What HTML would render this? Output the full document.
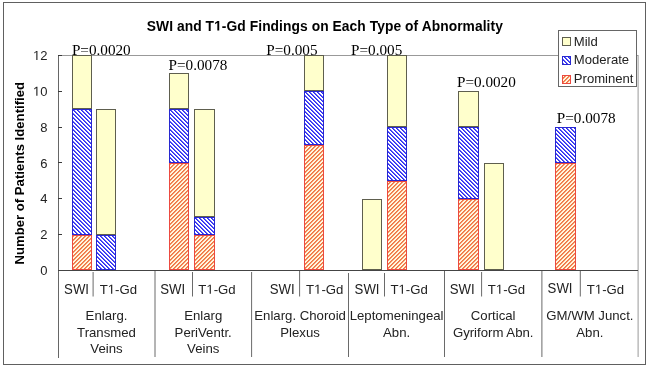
<!DOCTYPE html>
<html><head><meta charset="utf-8"><style>
html,body{margin:0;padding:0;background:#fff;}
body{width:649px;height:369px;overflow:hidden;}
svg{display:block;will-change:transform;}
text{font-family:"Liberation Sans",sans-serif;fill:#222;}
.serif{font-family:"Liberation Serif",serif;fill:#000;}
.h1{fill:transparent;}
</style></head><body>
<svg width="649" height="369" viewBox="0 0 649 369">
<defs>
<!--pat-->
<pattern id="pP0" width="4" height="4" patternUnits="userSpaceOnUse"><rect width="4" height="4" fill="#FFF6DE"/>
<rect x="0" y="0" width="1" height="1" fill="#F39262"/>
<rect x="3" y="0" width="1" height="1" fill="#F07444"/>
<rect x="2" y="1" width="1" height="1" fill="#F07444"/>
<rect x="3" y="1" width="1" height="1" fill="#F39262"/>
<rect x="1" y="2" width="1" height="1" fill="#F07444"/>
<rect x="2" y="2" width="1" height="1" fill="#F39262"/>
<rect x="0" y="3" width="1" height="1" fill="#F07444"/>
<rect x="1" y="3" width="1" height="1" fill="#F39262"/>
</pattern>
<pattern id="pP1" width="4" height="4" patternUnits="userSpaceOnUse"><rect width="4" height="4" fill="#FFF6DE"/>
<rect x="0" y="0" width="1" height="1" fill="#F07444"/>
<rect x="1" y="0" width="1" height="1" fill="#F39262"/>
<rect x="0" y="1" width="1" height="1" fill="#F39262"/>
<rect x="3" y="1" width="1" height="1" fill="#F07444"/>
<rect x="2" y="2" width="1" height="1" fill="#F07444"/>
<rect x="3" y="2" width="1" height="1" fill="#F39262"/>
<rect x="1" y="3" width="1" height="1" fill="#F07444"/>
<rect x="2" y="3" width="1" height="1" fill="#F39262"/>
</pattern>
<pattern id="pP2" width="4" height="4" patternUnits="userSpaceOnUse"><rect width="4" height="4" fill="#FFF6DE"/>
<rect x="1" y="0" width="1" height="1" fill="#F07444"/>
<rect x="2" y="0" width="1" height="1" fill="#F39262"/>
<rect x="0" y="1" width="1" height="1" fill="#F07444"/>
<rect x="1" y="1" width="1" height="1" fill="#F39262"/>
<rect x="0" y="2" width="1" height="1" fill="#F39262"/>
<rect x="3" y="2" width="1" height="1" fill="#F07444"/>
<rect x="2" y="3" width="1" height="1" fill="#F07444"/>
<rect x="3" y="3" width="1" height="1" fill="#F39262"/>
</pattern>
<pattern id="pP3" width="4" height="4" patternUnits="userSpaceOnUse"><rect width="4" height="4" fill="#FFF6DE"/>
<rect x="2" y="0" width="1" height="1" fill="#F07444"/>
<rect x="3" y="0" width="1" height="1" fill="#F39262"/>
<rect x="1" y="1" width="1" height="1" fill="#F07444"/>
<rect x="2" y="1" width="1" height="1" fill="#F39262"/>
<rect x="0" y="2" width="1" height="1" fill="#F07444"/>
<rect x="1" y="2" width="1" height="1" fill="#F39262"/>
<rect x="0" y="3" width="1" height="1" fill="#F39262"/>
<rect x="3" y="3" width="1" height="1" fill="#F07444"/>
</pattern>
<pattern id="pM0" width="4" height="4" patternUnits="userSpaceOnUse"><rect width="4" height="4" fill="#fff"/>
<rect x="1" y="0" width="1" height="1" fill="#2A2AF4"/>
<rect x="2" y="0" width="1" height="1" fill="#6060F6"/>
<rect x="2" y="1" width="1" height="1" fill="#2A2AF4"/>
<rect x="3" y="1" width="1" height="1" fill="#6060F6"/>
<rect x="0" y="2" width="1" height="1" fill="#6060F6"/>
<rect x="3" y="2" width="1" height="1" fill="#2A2AF4"/>
<rect x="0" y="3" width="1" height="1" fill="#2A2AF4"/>
<rect x="1" y="3" width="1" height="1" fill="#6060F6"/>
</pattern>
<pattern id="pM1" width="4" height="4" patternUnits="userSpaceOnUse"><rect width="4" height="4" fill="#fff"/>
<rect x="2" y="0" width="1" height="1" fill="#2A2AF4"/>
<rect x="3" y="0" width="1" height="1" fill="#6060F6"/>
<rect x="0" y="1" width="1" height="1" fill="#6060F6"/>
<rect x="3" y="1" width="1" height="1" fill="#2A2AF4"/>
<rect x="0" y="2" width="1" height="1" fill="#2A2AF4"/>
<rect x="1" y="2" width="1" height="1" fill="#6060F6"/>
<rect x="1" y="3" width="1" height="1" fill="#2A2AF4"/>
<rect x="2" y="3" width="1" height="1" fill="#6060F6"/>
</pattern>
<pattern id="pM2" width="4" height="4" patternUnits="userSpaceOnUse"><rect width="4" height="4" fill="#fff"/>
<rect x="0" y="0" width="1" height="1" fill="#6060F6"/>
<rect x="3" y="0" width="1" height="1" fill="#2A2AF4"/>
<rect x="0" y="1" width="1" height="1" fill="#2A2AF4"/>
<rect x="1" y="1" width="1" height="1" fill="#6060F6"/>
<rect x="1" y="2" width="1" height="1" fill="#2A2AF4"/>
<rect x="2" y="2" width="1" height="1" fill="#6060F6"/>
<rect x="2" y="3" width="1" height="1" fill="#2A2AF4"/>
<rect x="3" y="3" width="1" height="1" fill="#6060F6"/>
</pattern>
<pattern id="pM3" width="4" height="4" patternUnits="userSpaceOnUse"><rect width="4" height="4" fill="#fff"/>
<rect x="0" y="0" width="1" height="1" fill="#2A2AF4"/>
<rect x="1" y="0" width="1" height="1" fill="#6060F6"/>
<rect x="1" y="1" width="1" height="1" fill="#2A2AF4"/>
<rect x="2" y="1" width="1" height="1" fill="#6060F6"/>
<rect x="2" y="2" width="1" height="1" fill="#2A2AF4"/>
<rect x="3" y="2" width="1" height="1" fill="#6060F6"/>
<rect x="0" y="3" width="1" height="1" fill="#6060F6"/>
<rect x="3" y="3" width="1" height="1" fill="#2A2AF4"/>
</pattern>
</defs>
<rect width="649" height="369" fill="#fff"/>
<rect x="3.5" y="2.5" width="642" height="362" fill="none" stroke="#606060" stroke-width="1"/>
<text x="146.8" y="30.6" font-size="13.8" font-weight="bold" letter-spacing="0.07" style="fill:#000" id="o_title">SWI and T<tspan class="h1">1</tspan>-Gd Findings on Each Type of Abnormality</text>
<text transform="translate(24,264.5) rotate(-90)" x="0" y="0" font-size="13.15" font-weight="bold" style="fill:#000">Number of Patients Identified</text>
<text x="47.5" y="275.1" font-size="13" text-anchor="end" id="o_y0">0</text>
<text x="47.5" y="239.2" font-size="13" text-anchor="end" id="o_y2">2</text>
<text x="47.5" y="203.4" font-size="13" text-anchor="end" id="o_y4">4</text>
<text x="47.5" y="167.5" font-size="13" text-anchor="end" id="o_y6">6</text>
<text x="47.5" y="131.7" font-size="13" text-anchor="end" id="o_y8">8</text>
<text x="47.5" y="95.8" font-size="13" text-anchor="end" id="o_y10"><tspan class="h1">1</tspan>0</text>
<text x="47.5" y="59.9" font-size="13" text-anchor="end" id="o_y12"><tspan class="h1">1</tspan>2</text>
<line x1="58" y1="55.5" x2="638" y2="55.5" stroke="#999" stroke-width="1"/>
<line x1="638.1" y1="55" x2="638.1" y2="357" stroke="#999" stroke-width="1"/>
<rect x="72.5" y="235.5" width="19.0" height="34.0" fill="url(#pP1)" stroke="#EC4A40" stroke-width="1"/>
<rect x="72.5" y="109.5" width="19.0" height="125.0" fill="url(#pM2)" stroke="#2828D0" stroke-width="1"/>
<rect x="72.5" y="55.5" width="19.0" height="53.0" fill="#FFFFCC" stroke="#5E5E4E" stroke-width="1"/>
<rect x="96.5" y="235.5" width="19.0" height="34.0" fill="url(#pM3)" stroke="#2828D0" stroke-width="1"/>
<rect x="96.5" y="109.5" width="19.0" height="125.0" fill="#FFFFCC" stroke="#5E5E4E" stroke-width="1"/>
<rect x="169.5" y="163.5" width="19.0" height="106.0" fill="url(#pP2)" stroke="#EC4A40" stroke-width="1"/>
<rect x="169.5" y="109.5" width="19.0" height="53.0" fill="url(#pM3)" stroke="#2828D0" stroke-width="1"/>
<rect x="169.5" y="73.5" width="19.0" height="35.0" fill="#FFFFCC" stroke="#5E5E4E" stroke-width="1"/>
<rect x="194.5" y="235.5" width="20.0" height="34.0" fill="url(#pP3)" stroke="#EC4A40" stroke-width="1"/>
<rect x="194.5" y="217.5" width="20.0" height="17.0" fill="url(#pM0)" stroke="#2828D0" stroke-width="1"/>
<rect x="194.5" y="109.5" width="20.0" height="107.0" fill="#FFFFCC" stroke="#5E5E4E" stroke-width="1"/>
<rect x="304.5" y="145.5" width="19.0" height="124.0" fill="url(#pP1)" stroke="#EC4A40" stroke-width="1"/>
<rect x="304.5" y="91.5" width="19.0" height="53.0" fill="url(#pM0)" stroke="#2828D0" stroke-width="1"/>
<rect x="304.5" y="55.5" width="19.0" height="35.0" fill="#FFFFCC" stroke="#5E5E4E" stroke-width="1"/>
<rect x="362.5" y="199.5" width="19.0" height="70.0" fill="#FFFFCC" stroke="#5E5E4E" stroke-width="1"/>
<rect x="387.5" y="181.5" width="19.0" height="88.0" fill="url(#pP0)" stroke="#EC4A40" stroke-width="1"/>
<rect x="387.5" y="127.5" width="19.0" height="53.0" fill="url(#pM3)" stroke="#2828D0" stroke-width="1"/>
<rect x="387.5" y="55.5" width="19.0" height="71.0" fill="#FFFFCC" stroke="#5E5E4E" stroke-width="1"/>
<rect x="458.5" y="199.5" width="20.0" height="70.0" fill="url(#pP3)" stroke="#EC4A40" stroke-width="1"/>
<rect x="458.5" y="127.5" width="20.0" height="71.0" fill="url(#pM0)" stroke="#2828D0" stroke-width="1"/>
<rect x="458.5" y="91.5" width="20.0" height="35.0" fill="#FFFFCC" stroke="#5E5E4E" stroke-width="1"/>
<rect x="484.5" y="163.5" width="19.0" height="106.0" fill="#FFFFCC" stroke="#5E5E4E" stroke-width="1"/>
<rect x="555.5" y="163.5" width="20.0" height="106.0" fill="url(#pP0)" stroke="#EC4A40" stroke-width="1"/>
<rect x="555.5" y="127.5" width="20.0" height="35.0" fill="url(#pM1)" stroke="#2828D0" stroke-width="1"/>
<line x1="58.5" y1="55" x2="58.5" y2="358" stroke="#666" stroke-width="1"/>
<line x1="58" y1="270.5" x2="62" y2="270.5" stroke="#3a3a3a" stroke-width="1"/>
<line x1="58" y1="234.5" x2="62" y2="234.5" stroke="#3a3a3a" stroke-width="1"/>
<line x1="58" y1="198.5" x2="62" y2="198.5" stroke="#3a3a3a" stroke-width="1"/>
<line x1="58" y1="162.5" x2="62" y2="162.5" stroke="#3a3a3a" stroke-width="1"/>
<line x1="58" y1="127.5" x2="62" y2="127.5" stroke="#3a3a3a" stroke-width="1"/>
<line x1="58" y1="91.5" x2="62" y2="91.5" stroke="#3a3a3a" stroke-width="1"/>
<line x1="58" y1="55.5" x2="62" y2="55.5" stroke="#3a3a3a" stroke-width="1"/>
<line x1="58" y1="270.5" x2="638" y2="270.5" stroke="#444" stroke-width="1"/>
<line x1="155.0" y1="271" x2="155.0" y2="357" stroke="#6a6a6a" stroke-width="1"/>
<line x1="251.6" y1="272" x2="251.6" y2="357" stroke="#6a6a6a" stroke-width="1"/>
<line x1="348.5" y1="273" x2="348.5" y2="357" stroke="#6a6a6a" stroke-width="1"/>
<line x1="444.5" y1="271" x2="444.5" y2="357" stroke="#6a6a6a" stroke-width="1"/>
<line x1="541.9" y1="271" x2="541.9" y2="357" stroke="#6a6a6a" stroke-width="1"/>
<line x1="93.1" y1="272" x2="93.1" y2="296.5" stroke="#6a6a6a" stroke-width="1"/>
<line x1="192.5" y1="272" x2="192.5" y2="296.5" stroke="#6a6a6a" stroke-width="1"/>
<line x1="299.6" y1="271" x2="299.6" y2="296.5" stroke="#6a6a6a" stroke-width="1"/>
<line x1="384.5" y1="273" x2="384.5" y2="296.5" stroke="#6a6a6a" stroke-width="1"/>
<line x1="481.6" y1="272" x2="481.6" y2="296.5" stroke="#6a6a6a" stroke-width="1"/>
<line x1="580.3" y1="271" x2="580.3" y2="296.5" stroke="#6a6a6a" stroke-width="1"/>
<text x="64.1" y="293.8" font-size="13.2" transform="translate(0 293.8) scale(1 1.04) translate(0 -293.8)">SWI</text>
<text x="99.7" y="293.8" font-size="13.2" id="o_t0">T<tspan class="h1">1</tspan>-Gd</text>
<text x="160.2" y="293.8" font-size="13.2" transform="translate(0 293.8) scale(1 1.04) translate(0 -293.8)">SWI</text>
<text x="198.3" y="293.8" font-size="13.2" id="o_t1">T<tspan class="h1">1</tspan>-Gd</text>
<text x="269.8" y="293.8" font-size="13.2" transform="translate(0 293.8) scale(1 1.04) translate(0 -293.8)">SWI</text>
<text x="306" y="293.8" font-size="13.2" id="o_t2">T<tspan class="h1">1</tspan>-Gd</text>
<text x="354.6" y="293.8" font-size="13.2" transform="translate(0 293.8) scale(1 1.04) translate(0 -293.8)">SWI</text>
<text x="390.4" y="293.8" font-size="13.2" id="o_t3">T<tspan class="h1">1</tspan>-Gd</text>
<text x="449.8" y="293.8" font-size="13.2" transform="translate(0 293.8) scale(1 1.04) translate(0 -293.8)">SWI</text>
<text x="487.8" y="293.8" font-size="13.2" id="o_t4">T<tspan class="h1">1</tspan>-Gd</text>
<text x="547.6" y="292.8" font-size="13.2" transform="translate(0 292.8) scale(1 1.04) translate(0 -292.8)">SWI</text>
<text x="586.8" y="293.8" font-size="13.2" id="o_t5">T<tspan class="h1">1</tspan>-Gd</text>
<text x="106.5" y="320.4" font-size="13.2" text-anchor="middle">Enlarg.</text>
<text x="106.5" y="336.9" font-size="13.2" text-anchor="middle">Transmed</text>
<text x="106.5" y="353.4" font-size="13.2" text-anchor="middle">Veins</text>
<text x="203.2" y="320.4" font-size="13.2" text-anchor="middle">Enlarg</text>
<text x="203.2" y="336.9" font-size="13.2" text-anchor="middle">PeriVentr.</text>
<text x="203.2" y="353.4" font-size="13.2" text-anchor="middle">Veins</text>
<text x="300.1" y="320.4" font-size="13.2" text-anchor="middle">Enlarg. Choroid</text>
<text x="300.1" y="336.8" font-size="13.2" text-anchor="middle">Plexus</text>
<text x="396.6" y="320.4" font-size="13.2" text-anchor="middle">Leptomeningeal</text>
<text x="396.6" y="336.8" font-size="13.2" text-anchor="middle">Abn.</text>
<text x="493.2" y="320.4" font-size="13.2" text-anchor="middle">Cortical</text>
<text x="493.2" y="336.8" font-size="13.2" text-anchor="middle">Gyriform Abn.</text>
<text x="589.9" y="320.4" font-size="13.2" text-anchor="middle">GM/WM Junct.</text>
<text x="589.9" y="336.8" font-size="13.2" text-anchor="middle">Abn.</text>
<text class="serif" x="71.9" y="54.7" font-size="15.2">P=0.0020</text>
<text class="serif" x="168.6" y="70.0" font-size="15.2">P=0.0078</text>
<text class="serif" x="266.3" y="54.5" font-size="15.2">P=0.005</text>
<text class="serif" x="351.1" y="54.5" font-size="15.2">P=0.005</text>
<text class="serif" x="457.0" y="86.9" font-size="15.2">P=0.0020</text>
<text class="serif" x="556.8" y="122.8" font-size="15.2">P=0.0078</text>
<rect x="558.5" y="30.5" width="78" height="56" fill="#fff" stroke="#666" stroke-width="1"/>
<rect x="562.5" y="37.5" width="8" height="8" fill="#FFFFCC" stroke="#5E5E4E" stroke-width="1"/>
<text x="573.8" y="45.7" font-size="13.1">Mild</text>
<rect x="562.5" y="56.5" width="8" height="8" fill="url(#pM2)" stroke="#2828D0" stroke-width="1"/>
<text x="573.8" y="63.7" font-size="13.1">Moderate</text>
<rect x="562.5" y="75.5" width="8" height="8" fill="url(#pP1)" stroke="#EC4A40" stroke-width="1"/>
<text x="573.8" y="82.7" font-size="13.1">Prominent</text>
<path d="M217.33 30.60 L217.33 22.72 L215.06 24.14 L215.06 22.65 L217.43 21.11 L219.23 21.11 L219.23 30.60Z" fill="rgb(0, 0, 0)"/>
<path d="M36.30 95.80 L36.30 87.95 L34.28 89.39 L34.28 88.31 L36.40 86.86 L37.45 86.86 L37.45 95.80Z" fill="rgb(34, 34, 34)"/>
<path d="M36.30 59.90 L36.30 52.05 L34.28 53.49 L34.28 52.41 L36.40 50.96 L37.45 50.96 L37.45 59.90Z" fill="rgb(34, 34, 34)"/>
<path d="M111.08 293.80 L111.08 285.83 L109.03 287.29 L109.03 286.19 L111.18 284.72 L112.25 284.72 L112.25 293.80Z" fill="rgb(34, 34, 34)"/>
<path d="M209.68 293.80 L209.68 285.83 L207.63 287.29 L207.63 286.19 L209.78 284.72 L210.85 284.72 L210.85 293.80Z" fill="rgb(34, 34, 34)"/>
<path d="M317.38 293.80 L317.38 285.83 L315.33 287.29 L315.33 286.19 L317.48 284.72 L318.55 284.72 L318.55 293.80Z" fill="rgb(34, 34, 34)"/>
<path d="M401.78 293.80 L401.78 285.83 L399.73 287.29 L399.73 286.19 L401.88 284.72 L402.95 284.72 L402.95 293.80Z" fill="rgb(34, 34, 34)"/>
<path d="M499.18 293.80 L499.18 285.83 L497.13 287.29 L497.13 286.19 L499.28 284.72 L500.35 284.72 L500.35 293.80Z" fill="rgb(34, 34, 34)"/>
<path d="M598.18 293.80 L598.18 285.83 L596.13 287.29 L596.13 286.19 L598.28 284.72 L599.35 284.72 L599.35 293.80Z" fill="rgb(34, 34, 34)"/>
</svg>
</body></html>
